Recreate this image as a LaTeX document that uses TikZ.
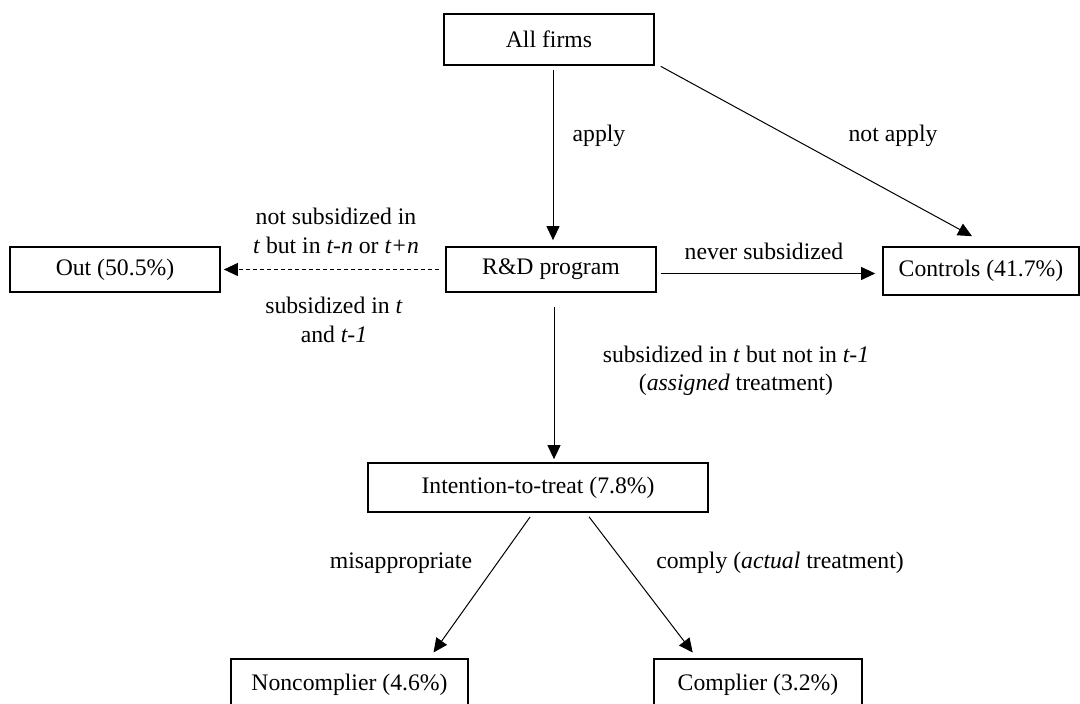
\documentclass[tikz,border=0pt]{standalone}
\usepackage{fontspec}
\setmainfont{Liberation Serif}
\usetikzlibrary{arrows.meta}

\begin{document}
\begin{tikzpicture}[
x=1pt, y=-1pt,
box/.style={
  draw,
  line width=1.7pt,
  inner sep=0pt,
  minimum height=48pt
  },
lbl/.style={
  align=center,
  inner sep=0pt
  },
link/.style={
  ->,
  line width=1pt
  },
>={Triangle[length=14pt,width=13pt]},
font=\fontsize{23.7}{28.5}\selectfont
]
\useasboundingbox (0,0) rectangle (1080,704);

% boxes
\node[box, minimum width=210pt, minimum height=51pt] (allf) at (549,39.5) {All firms};
\node[box, minimum width=210pt, minimum height=45pt] (rnd) at (551,269.5) {R\&D program};
\node[box, minimum width=210pt, minimum height=45pt] (out) at (115,269.5) {Out (50.5\%)};
\node[box, minimum width=196pt] (ctrl) at (981,271) {Controls (41.7\%)};
\node[box, minimum width=340pt, minimum height=49pt] (itt) at (538,487.5) {Intention-to-treat (7.8\%)};
\node[box, minimum width=237pt, minimum height=51pt] (nonc) at (349.5,684.5) {Noncomplier (4.6\%)};
\node[box, minimum width=208pt, minimum height=51pt] (comp) at (758,684.5) {Complier (3.2\%)};

% labels
\node[lbl] (lapply) at (599,136) {apply};
\node[lbl] (lnotapply) at (893,136) {not apply};
\node[lbl] (lnever) at (764,251) {never subsidized};
\node[lbl] (lnotsub) at (336,231) {not subsidized in\\ \textit{t} but in \textit{t-n} or \textit{t+n}};
\node[lbl] (lsub) at (334,320) {subsidized in \textit{t}\\ and \textit{t-1}};
\node[lbl] (lassign) at (736,371) {subsidized in \textit{t} but not in \textit{t-1}\\ (\textit{assigned} treatment)};
\node[lbl] (lmis) at (401,563) {misappropriate};
\node[lbl] (lcomply) at (780,563) {comply (\textit{actual} treatment)};

% connectors
\draw[link, shorten <=4pt, shorten >=6pt] ([xshift=4pt]allf.south) -- ([xshift=2pt]rnd.north);
\draw[link, shorten <=1pt] ([xshift=5pt]allf.south east) -- ([xshift=-9pt,yshift=10pt]ctrl.north);
\draw[link, shorten <=4pt, shorten >=7pt] ([yshift=-4pt]rnd.east) -- ([yshift=-4pt]rnd.east -| ctrl.west);
\draw[link, dash pattern=on 4pt off 3pt, shorten <=6pt, shorten >=3pt] (rnd.west) -- (out.east);
\draw[link, shorten <=14pt, shorten >=3pt] ([xshift=3pt]rnd.south) -- ([xshift=3pt]rnd.south |- itt.north);
\draw[link, shorten <=5pt, shorten >=7pt] ([xshift=-5pt]itt.south) -- ([xshift=80pt]nonc.north);
\draw[link, shorten <=5pt, shorten >=7pt] ([xshift=48pt]itt.south) -- ([xshift=-61pt]comp.north);
\end{tikzpicture}
\end{document}
